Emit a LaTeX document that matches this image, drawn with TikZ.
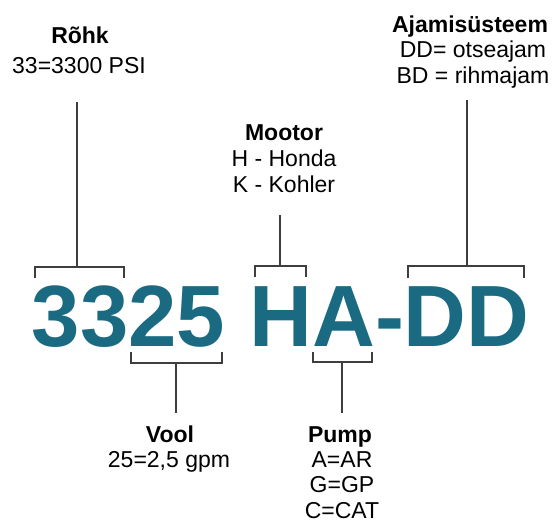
\documentclass[tikz,border=0pt]{standalone}
\usepackage{fontspec}
\setmainfont{Liberation Sans}
\definecolor{codeteal}{RGB}{26,106,130}
\definecolor{brk}{RGB}{62,62,62}
\begin{document}
\begin{tikzpicture}[x=1pt,y=-1pt,
    bracket/.style={brk,line width=2pt},
    lbl/.style={anchor=base,align=center,inner sep=0pt,font=\fontsize{23}{25.5}\selectfont},
    ttl/.style={lbl,font=\fontsize{23}{25.5}\selectfont\bfseries}]
  \useasboundingbox (0,0) rectangle (556,531);
  % the model code
  \node[anchor=base west,inner sep=0pt,text=codeteal,font=\fontsize{87}{87}\selectfont\bfseries] (code) at (31.6,346) {3325 HA-DD};
  % labels above the code (base = last line)
  \node[ttl] (rohk) at (80,43) {Rõhk};
  \node[lbl] (rohkval) at (79,73) {33=3300 PSI};
  \node[ttl] (mootor) at (284,140) {Mootor};
  \node[lbl] (mootorval) at (284,192) {H - Honda\\K - Kohler};
  \node[ttl] (ajam) at (470,32) {Ajamisüsteem};
  \node[lbl] (ajamval) at (473,83) {DD= otseajam\\BD = rihmajam};
  % labels below the code
  \node[ttl] (vool) at (170,442) {Vool};
  \node[lbl] (voolval) at (169,467) {25=2,5 gpm};
  \node[ttl] (pump) at (340,442) {Pump};
  \node[lbl] (pumpval) at (342,518) {A=AR\\G=GP\\C=CAT};
  % stem ends
  \coordinate (rohk-end) at (77,102);
  \coordinate (mootor-end) at (280,215);
  \coordinate (ajam-end) at (467,100);
  \coordinate (vool-end) at (176,413);
  \coordinate (pump-end) at (342,413);
  % brackets over the code
  \draw[bracket] (35,278) |- (124,267) -- (124,278);
  \draw[bracket] (rohk-end) -- (77,267);
  \draw[bracket] (255,277) |- (306,266) -- (306,277);
  \draw[bracket] (mootor-end) -- (280,266);
  \draw[bracket] (408,278) |- (524,266) -- (524,278);
  \draw[bracket] (ajam-end) -- (467,266);
  % brackets under the code
  \draw[bracket] (131,352) |- (222,363) -- (222,352);
  \draw[bracket] (vool-end) -- (176,363);
  \draw[bracket] (313,352) |- (372,362) -- (372,352);
  \draw[bracket] (pump-end) -- (342,362);
\end{tikzpicture}
\end{document}
